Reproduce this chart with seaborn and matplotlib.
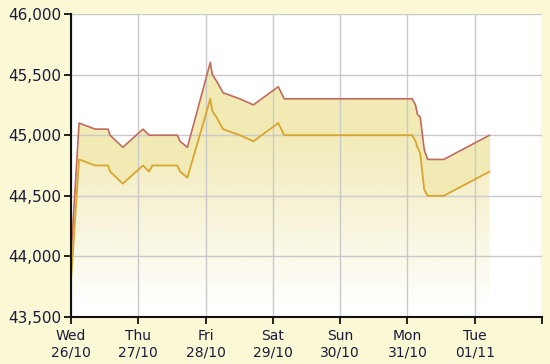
import numpy as np
import pandas as pd
import matplotlib
matplotlib.use("Agg")
import matplotlib.pyplot as plt
import seaborn as sns
from matplotlib.patches import Polygon

# ---- data ----
days = [0.00, 0.12, 0.36, 0.55, 0.58, 0.77, 1.07, 1.16, 1.21, 1.58, 1.62, 1.73,
        2.07, 2.10, 2.16, 2.26, 2.51, 2.71, 3.08, 3.17, 5.07, 5.12, 5.15, 5.19,
        5.25, 5.30, 5.54, 6.22]
upper = [44000, 45100, 45050, 45050, 45000, 44900, 45050, 45000, 45000, 45000, 44950, 44900,
         45600, 45500, 45450, 45350, 45300, 45250, 45400, 45300, 45300, 45250, 45170, 45150,
         44880, 44800, 44800, 45000]
lower = [43800, 44800, 44750, 44750, 44700, 44600, 44750, 44700, 44750, 44750, 44700, 44650,
         45300, 45200, 45150, 45050, 45000, 44950, 45100, 45000, 45000, 44950, 44900, 44850,
         44550, 44500, 44500, 44700]
tick_days = [0, 1, 2, 3, 4, 5, 6, 7]
tick_labels = ["Wed\n26/10", "Thu\n27/10", "Fri\n28/10", "Sat\n29/10", "Sun\n30/10",
               "Mon\n31/10", "Tue\n01/11", ""]
y_ticks = [43500, 44000, 44500, 45000, 45500, 46000]

df = pd.DataFrame({"day": days, "upper": upper, "lower": lower})

sns.set_style("white")
plt.rcParams['font.family'] = ['DejaVu Sans']

BG = "#FBF8D5"
fig = plt.figure(figsize=(5.5, 3.64), dpi=100, facecolor=BG)
ax = fig.add_axes([71/550, 1 - 317/364, (542 - 71)/550, (317 - 14)/364])
ax.set_facecolor("white")

ax.set_xlim(0, 7)
ax.set_ylim(43500, 46000)

# gradient fill below lower line
ymin, ymax = 43500, 46000
grad_n = 256
yy = np.linspace(ymax, ymin, grad_n)
alpha = np.clip((yy - 43600) / (45100 - 43600), 0, 1) ** 0.9 * 0.85
img = np.zeros((grad_n, 2, 4))
col = np.array(matplotlib.colors.to_rgb("#EFE6A8"))
img[:, :, :3] = col
img[:, :, 3] = alpha[:, None]
poly_pts = [(d, v) for d, v in zip(days, lower)] + [(days[-1], ymin), (days[0], ymin)]
poly = Polygon(poly_pts, closed=True, facecolor="none", edgecolor="none")
ax.add_patch(poly)
im = ax.imshow(img, extent=[0, 7, ymin, ymax], aspect="auto", zorder=1, interpolation="bilinear")
im.set_clip_path(poly)

# band between lines
ax.fill_between(df["day"], df["lower"], df["upper"], color="#F2EAB4", zorder=1.5, linewidth=0)

sns.lineplot(data=df, x="day", y="upper", color="#C26A5C", linewidth=1.2, ax=ax, zorder=3)
sns.lineplot(data=df, x="day", y="lower", color="#D8A52E", linewidth=1.3, ax=ax, zorder=3)

ax.set_xticks(tick_days)
ax.set_xticklabels(tick_labels, fontsize=10, color="#1a1a3a", linespacing=1.15)
ax.set_yticks(y_ticks)
ax.set_yticklabels([f"{v:,}" for v in y_ticks], fontsize=11, color="#1a1a3a")
ax.set_xlabel("")
ax.set_ylabel("")

ax.grid(True, color="#C9C9C9", linewidth=1.0, zorder=2)
ax.set_axisbelow(False)
for gl in ax.get_xgridlines() + ax.get_ygridlines():
    gl.set_zorder(2)

for s in ["top", "right"]:
    ax.spines[s].set_visible(False)
for s in ["left", "bottom"]:
    ax.spines[s].set_color("#111111")
    ax.spines[s].set_linewidth(1.5)
    ax.spines[s].set_zorder(4)
ax.tick_params(axis="both", direction="out", length=5, width=1.3, color="#111111",
               left=True, bottom=True)
ax.tick_params(axis="x", pad=4)
ax.tick_params(axis="y", pad=2)

fig.savefig("out.png", dpi=100, facecolor=BG)
